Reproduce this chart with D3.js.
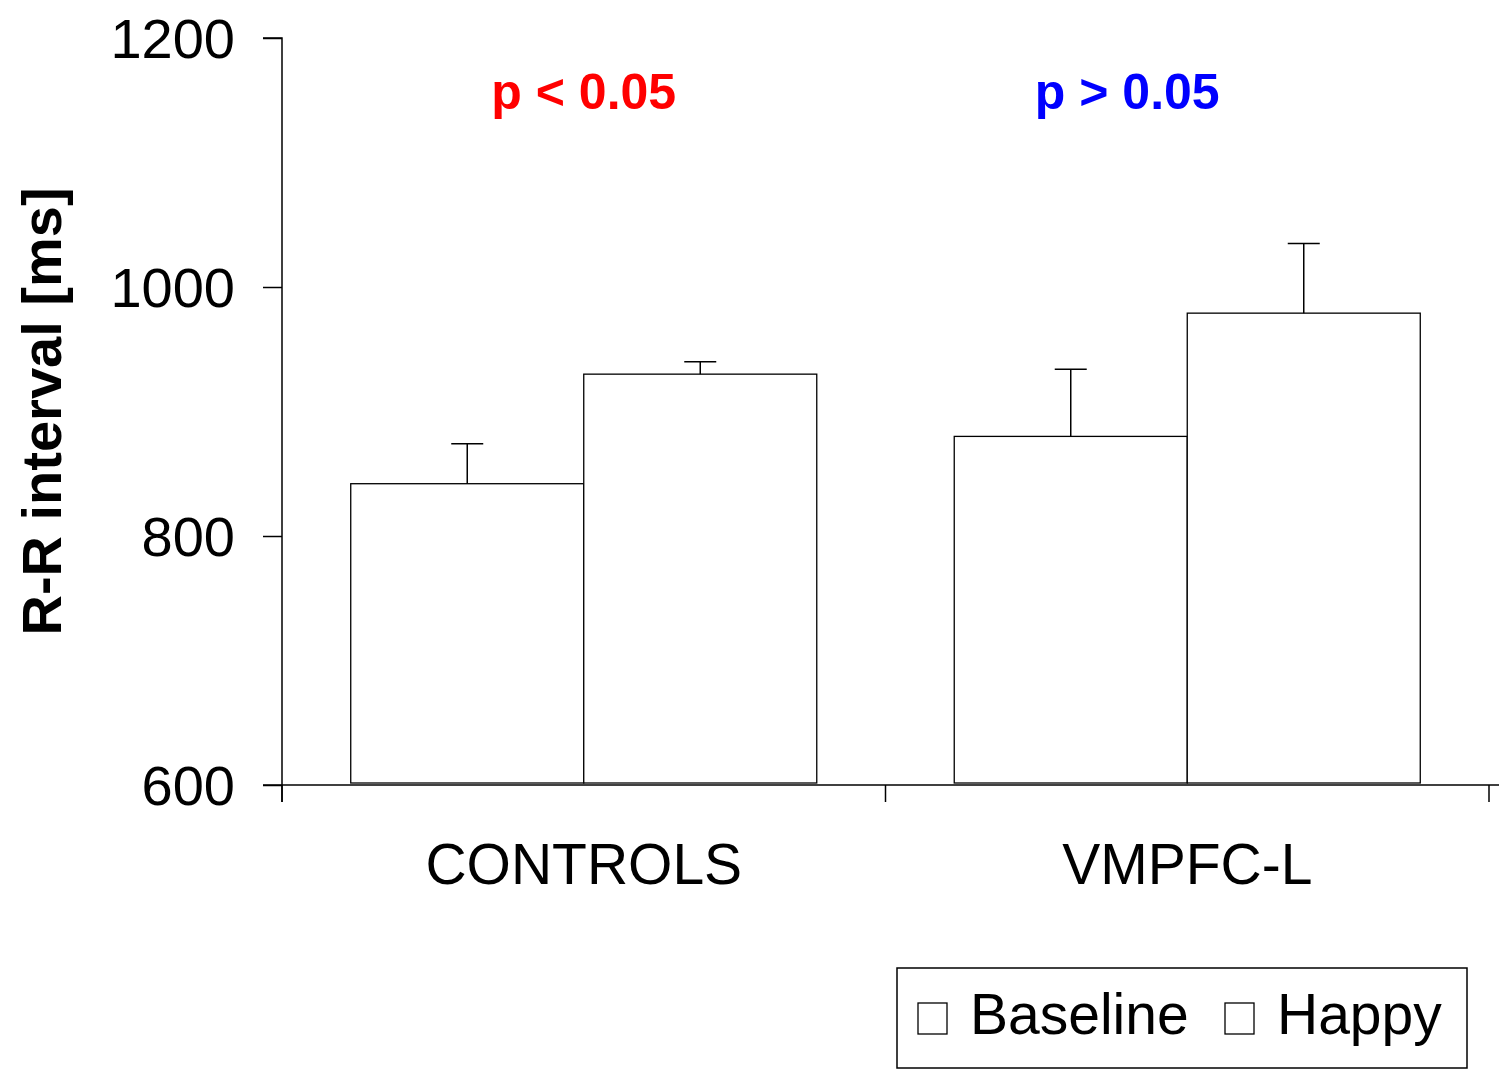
<!DOCTYPE html>
<html>
<head>
<meta charset="utf-8">
<script src="https://cdn.jsdelivr.net/npm/d3@7"></script>
<style>
  html, body { margin: 0; padding: 0; background: #fff; }
  svg { display: block; font-family: "Liberation Sans", Arial, sans-serif; }
</style>
</head>
<body>
<svg id="chart" width="1506" height="1074"></svg>
<script>
// Mean R-R interval per group and condition, with upper error (SEM)
const groups = ["CONTROLS", "VMPFC-L"];
const conditions = ["Baseline", "Happy"];
const baselineMeans = [842, 880];
const happyMeans = [930, 979];
const baselineErrors = [32, 54];
const happyErrors = [10, 56];
const yTicks = [600, 800, 1000, 1200];
const pLabels = ["p < 0.05", "p > 0.05"];
const pColors = ["#ff0000", "#0000ff"];

const svg = d3.select("#chart");
const plot = { left: 282, right: 1489, top: 38, bottom: 785 };

const y = d3.scaleLinear().domain([600, 1200]).range([plot.bottom, plot.top]);
const x0 = d3.scaleBand().domain(groups).range([plot.left, plot.right]).paddingInner(0).paddingOuter(0);
const x1 = d3.scaleBand().domain(conditions).range([0, x0.bandwidth()]).paddingInner(0).paddingOuter(0.295);

const rows = groups.map((g, i) => ({
  group: g,
  values: [
    { cond: "Baseline", mean: baselineMeans[i], err: baselineErrors[i] },
    { cond: "Happy", mean: happyMeans[i], err: happyErrors[i] }
  ]
}));

// Bars
const gGroups = svg.selectAll("g.group").data(rows).join("g")
  .attr("class", "group")
  .attr("transform", d => `translate(${x0(d.group)},0)`);

gGroups.selectAll("rect").data(d => d.values).join("rect")
  .attr("x", d => x1(d.cond))
  .attr("width", x1.bandwidth())
  .attr("y", d => y(d.mean))
  .attr("height", d => y(600) - 2 - y(d.mean))
  .attr("fill", "#fff")
  .attr("stroke", "#000")
  .attr("stroke-width", 1.3);

// Upper error bars
const capHalf = 16;
gGroups.selectAll("g.err").data(d => d.values).join("g")
  .attr("class", "err")
  .each(function(d) {
    const cx = x1(d.cond) + x1.bandwidth() / 2;
    const g = d3.select(this);
    g.append("line").attr("x1", cx).attr("x2", cx)
      .attr("y1", y(d.mean)).attr("y2", y(d.mean + d.err))
      .attr("stroke", "#000").attr("stroke-width", 1.5);
    g.append("line").attr("x1", cx - capHalf).attr("x2", cx + capHalf)
      .attr("y1", y(d.mean + d.err)).attr("y2", y(d.mean + d.err))
      .attr("stroke", "#000").attr("stroke-width", 1.5);
  });

// Y axis
const yAxis = d3.axisLeft(y).tickValues(yTicks).tickFormat(d3.format("d")).tickSize(19).tickPadding(28);
const gy = svg.append("g").attr("transform", `translate(${plot.left},0)`).call(yAxis);
gy.select(".domain").attr("d", `M-19,${plot.top}H0V${plot.bottom + 17}`).attr("stroke-width", 1.5);
gy.selectAll(".tick line").attr("stroke-width", 1.5);
gy.selectAll(".tick text").attr("font-size", 56).attr("fill", "#000")
  .attr("font-family", "Liberation Sans, Arial, sans-serif").attr("dy", "0.35em");

// X axis
const xAxis = d3.axisBottom(x0).tickSize(0).tickPadding(0);
const gx = svg.append("g").attr("transform", `translate(0,${plot.bottom})`).call(xAxis);
gx.select(".domain").attr("d", `M${plot.left - 19},0H${plot.right + 10}`).attr("stroke-width", 1.5);
gx.selectAll(".tick text").attr("font-size", 57).attr("fill", "#000")
  .attr("font-family", "Liberation Sans, Arial, sans-serif")
  .attr("y", 99).attr("dy", 0);
// Group boundary ticks
const boundaries = [plot.left, x0(groups[1]), plot.right];
gx.selectAll("line.bound").data(boundaries).join("line")
  .attr("class", "bound")
  .attr("x1", d => d).attr("x2", d => d)
  .attr("y1", 0).attr("y2", 17)
  .attr("stroke", "#000").attr("stroke-width", 1.5);

// Y axis title
svg.append("text")
  .attr("transform", `translate(61,${(plot.top + plot.bottom) / 2}) rotate(-90)`)
  .attr("text-anchor", "middle")
  .attr("font-size", 56).attr("font-weight", "bold")
  .text("R-R interval [ms]");

// Significance labels (the second one sits left of its group centre)
const pShift = [0, -60];
svg.selectAll("text.p").data(pLabels).join("text")
  .attr("class", "p")
  .attr("x", (d, i) => x0(groups[i]) + x0.bandwidth() / 2 + pShift[i])
  .attr("y", 109)
  .attr("text-anchor", "middle")
  .attr("font-size", 50).attr("font-weight", "bold")
  .attr("fill", (d, i) => pColors[i])
  .text(d => d);

// Legend
const legend = svg.append("g").attr("transform", "translate(897,968)");
legend.append("rect").attr("width", 570).attr("height", 100)
  .attr("fill", "#fff").attr("stroke", "#000").attr("stroke-width", 1.5);
const legendX = [21, 328];
const items = legend.selectAll("g.item").data(conditions).join("g")
  .attr("class", "item")
  .attr("transform", (d, i) => `translate(${legendX[i]},0)`);
items.append("rect").attr("x", 0).attr("y", 35).attr("width", 29).attr("height", 31)
  .attr("fill", "#fff").attr("stroke", "#000").attr("stroke-width", 1.3);
items.append("text").attr("x", 52).attr("y", 66)
  .attr("font-size", 57).text(d => d);
</script>
</body>
</html>
